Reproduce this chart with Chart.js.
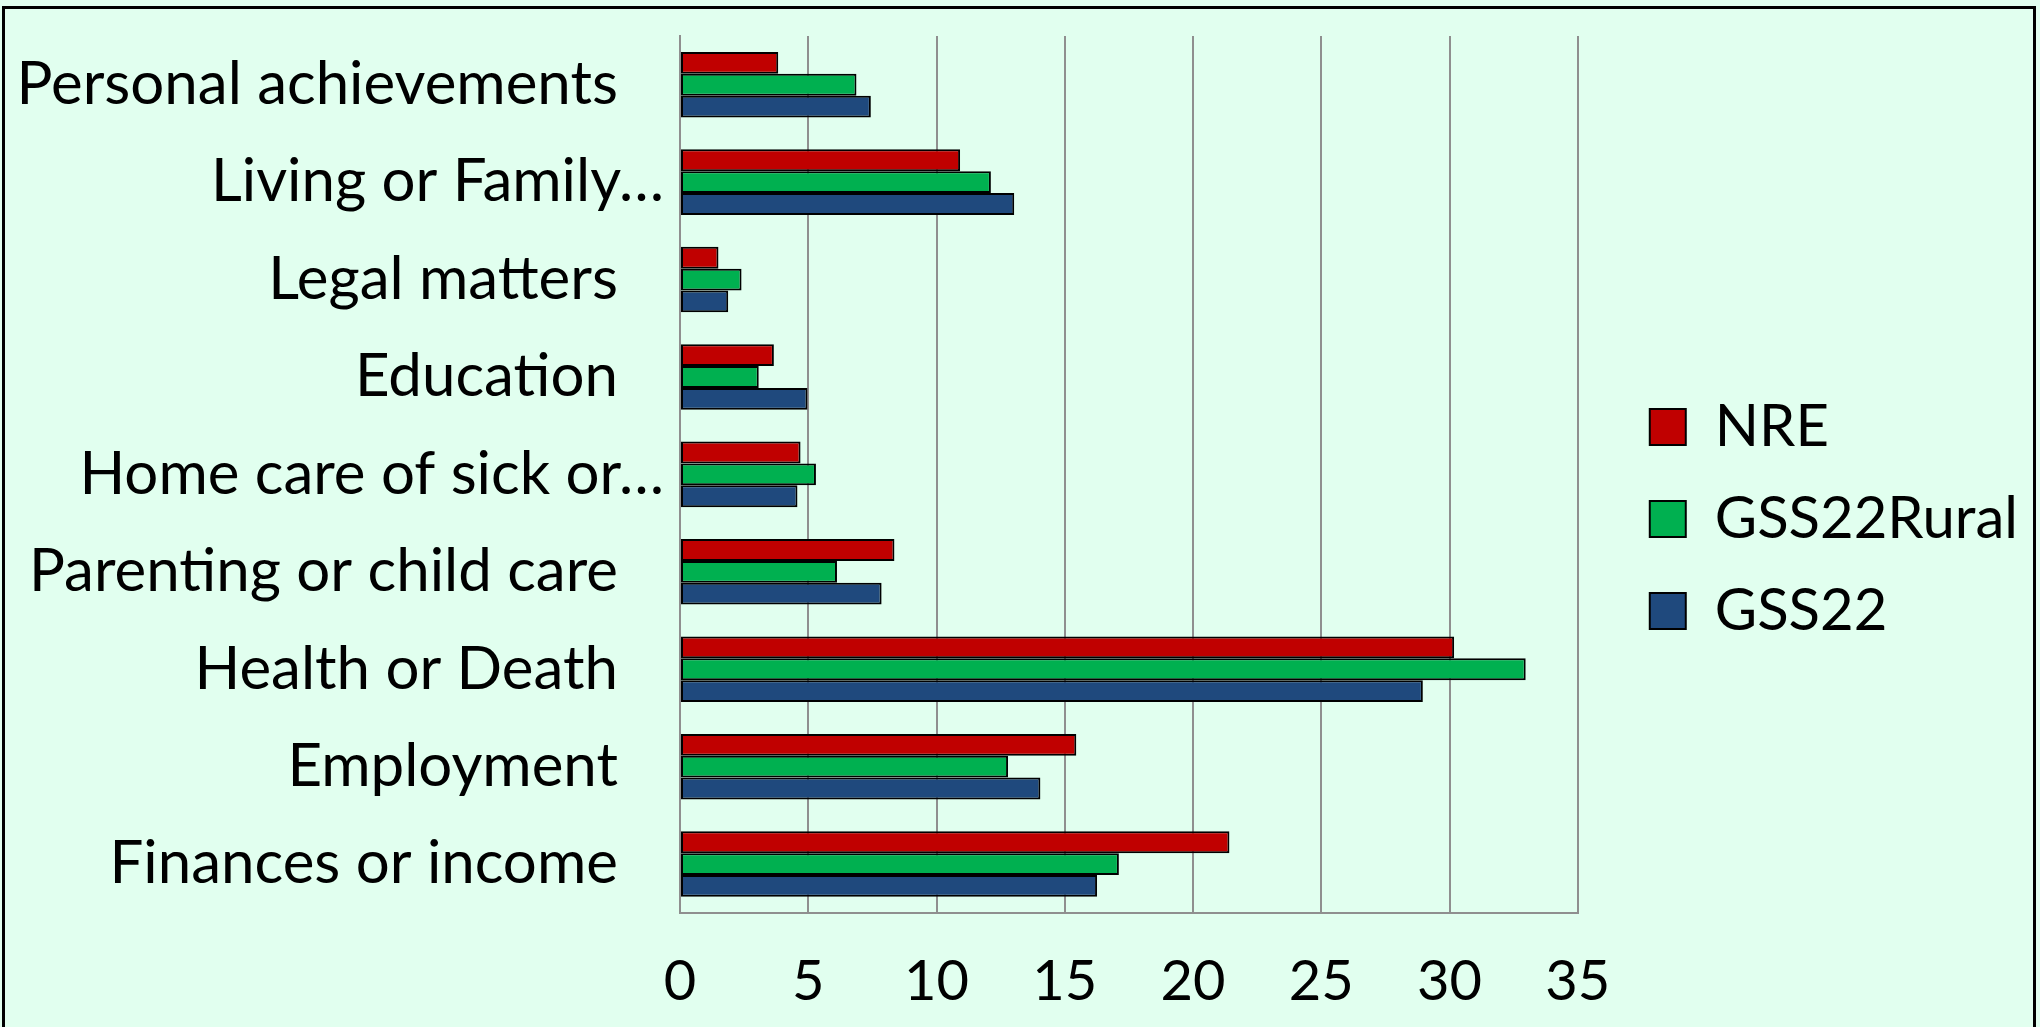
<!DOCTYPE html>
<html>
<head>
<meta charset="utf-8">
<script src="https://cdn.jsdelivr.net/npm/chart.js@4"></script>
<style>
    html, body { margin: 0; padding: 0; background: #E1FFEF; overflow: hidden; }
    #frame {
        position: absolute; left: 2px; top: 6px;
        width: 2028px; height: 1100px;
        border: 3px solid #000;
    }
    #wrap { position: absolute; left: 0; top: 0; width: 2040px; height: 1027px; }
</style>
</head>
<body>
<div id="frame"></div>
<div id="wrap"><canvas id="chart"></canvas></div>
<script>
// Categories, top to bottom as shown
const categories = [
    'Personal achievements',
    'Living or Family\u2026',
    'Legal matters',
    'Education',
    'Home care of sick or\u2026',
    'Parenting or child care',
    'Health or Death',
    'Employment',
    'Finances or income'
];

// Series values (%)
const nreValues        = [3.83, 10.92, 1.50, 3.66, 4.70, 8.36, 30.18, 15.45, 21.42];
const gss22RuralValues = [6.88, 12.12, 2.40, 3.07, 5.30, 6.12, 32.97, 12.79, 17.11];
const gss22Values      = [7.44, 13.03, 1.88, 4.97, 4.58, 7.86, 28.96, 14.05, 16.26];

// Axis ticks
const xTicks = [0, 5, 10, 15, 20, 25, 30, 35];

const FONT = 'Lato';
const GRID = '#8f8f8f';
const X_TICK_SIZE = 56;
const X_TICK_PAD = 36;

// move the legend a bit right / up from where Chart.js puts it
const legendShift = {
    id: 'legendShift',
    afterLayout(chart) {
        const dx = 38, dy = -7;
        chart.legend.left += dx;
        chart.legend.right += dx;
        chart.legend.top += dy;
        chart.legend.bottom += dy;
    }
};

const ctx = document.getElementById('chart').getContext('2d');
new Chart(ctx, {
    type: 'bar',
    data: {
        labels: categories,
        datasets: [
            { label: 'NRE',        data: nreValues,        backgroundColor: '#C00000' },
            { label: 'GSS22Rural', data: gss22RuralValues, backgroundColor: '#00B050' },
            { label: 'GSS22',      data: gss22Values,      backgroundColor: '#1F497D' }
        ].map(ds => Object.assign(ds, {
            borderColor: '#000',
            borderWidth: 2,
            borderSkipped: false,
            barPercentage: 1,
            categoryPercentage: 0.673
        }))
    },
    options: {
        indexAxis: 'y',
        responsive: true,
        maintainAspectRatio: false,
        animation: false,
        layout: { padding: { top: 36, left: 0, right: 50, bottom: 11 } },
        plugins: {
            legend: {
                position: 'right',
                labels: {
                    color: '#000',
                    font: { family: FONT, size: 58 },
                    boxWidth: 36,
                    boxHeight: 36,
                    padding: 34
                }
            },
            tooltip: { enabled: false }
        },
        scales: {
            x: {
                min: 0,
                max: 35,
                afterBuildTicks: scale => { scale.ticks = xTicks.map(v => ({ value: v })); },
                // Chart.js counts tick padding twice; keep it once only
                afterFit: scale => { scale.height = X_TICK_PAD + X_TICK_SIZE * 1.2; },
                grid: { color: GRID, lineWidth: 2, drawTicks: false },
                border: { color: GRID, width: 2 },
                ticks: {
                    color: '#000',
                    font: { family: FONT, size: X_TICK_SIZE },
                    padding: X_TICK_PAD
                }
            },
            y: {
                grid: { display: false, drawTicks: false },
                border: { color: GRID, width: 2 },
                afterFit: scale => {
                    scale.width = 680;
                    scale.paddingTop = 0;
                    scale.paddingBottom = 0;
                },
                ticks: {
                    color: '#000',
                    font: { family: FONT, size: 60 },
                    padding: 16,
                    // labels that are not cut off keep some trailing room
                    callback: function (value) {
                        const label = this.getLabelForValue(value);
                        return label.endsWith('\u2026') ? label : label + '   ';
                    }
                }
            }
        }
    },
    plugins: [legendShift]
});
</script>
</body>
</html>
